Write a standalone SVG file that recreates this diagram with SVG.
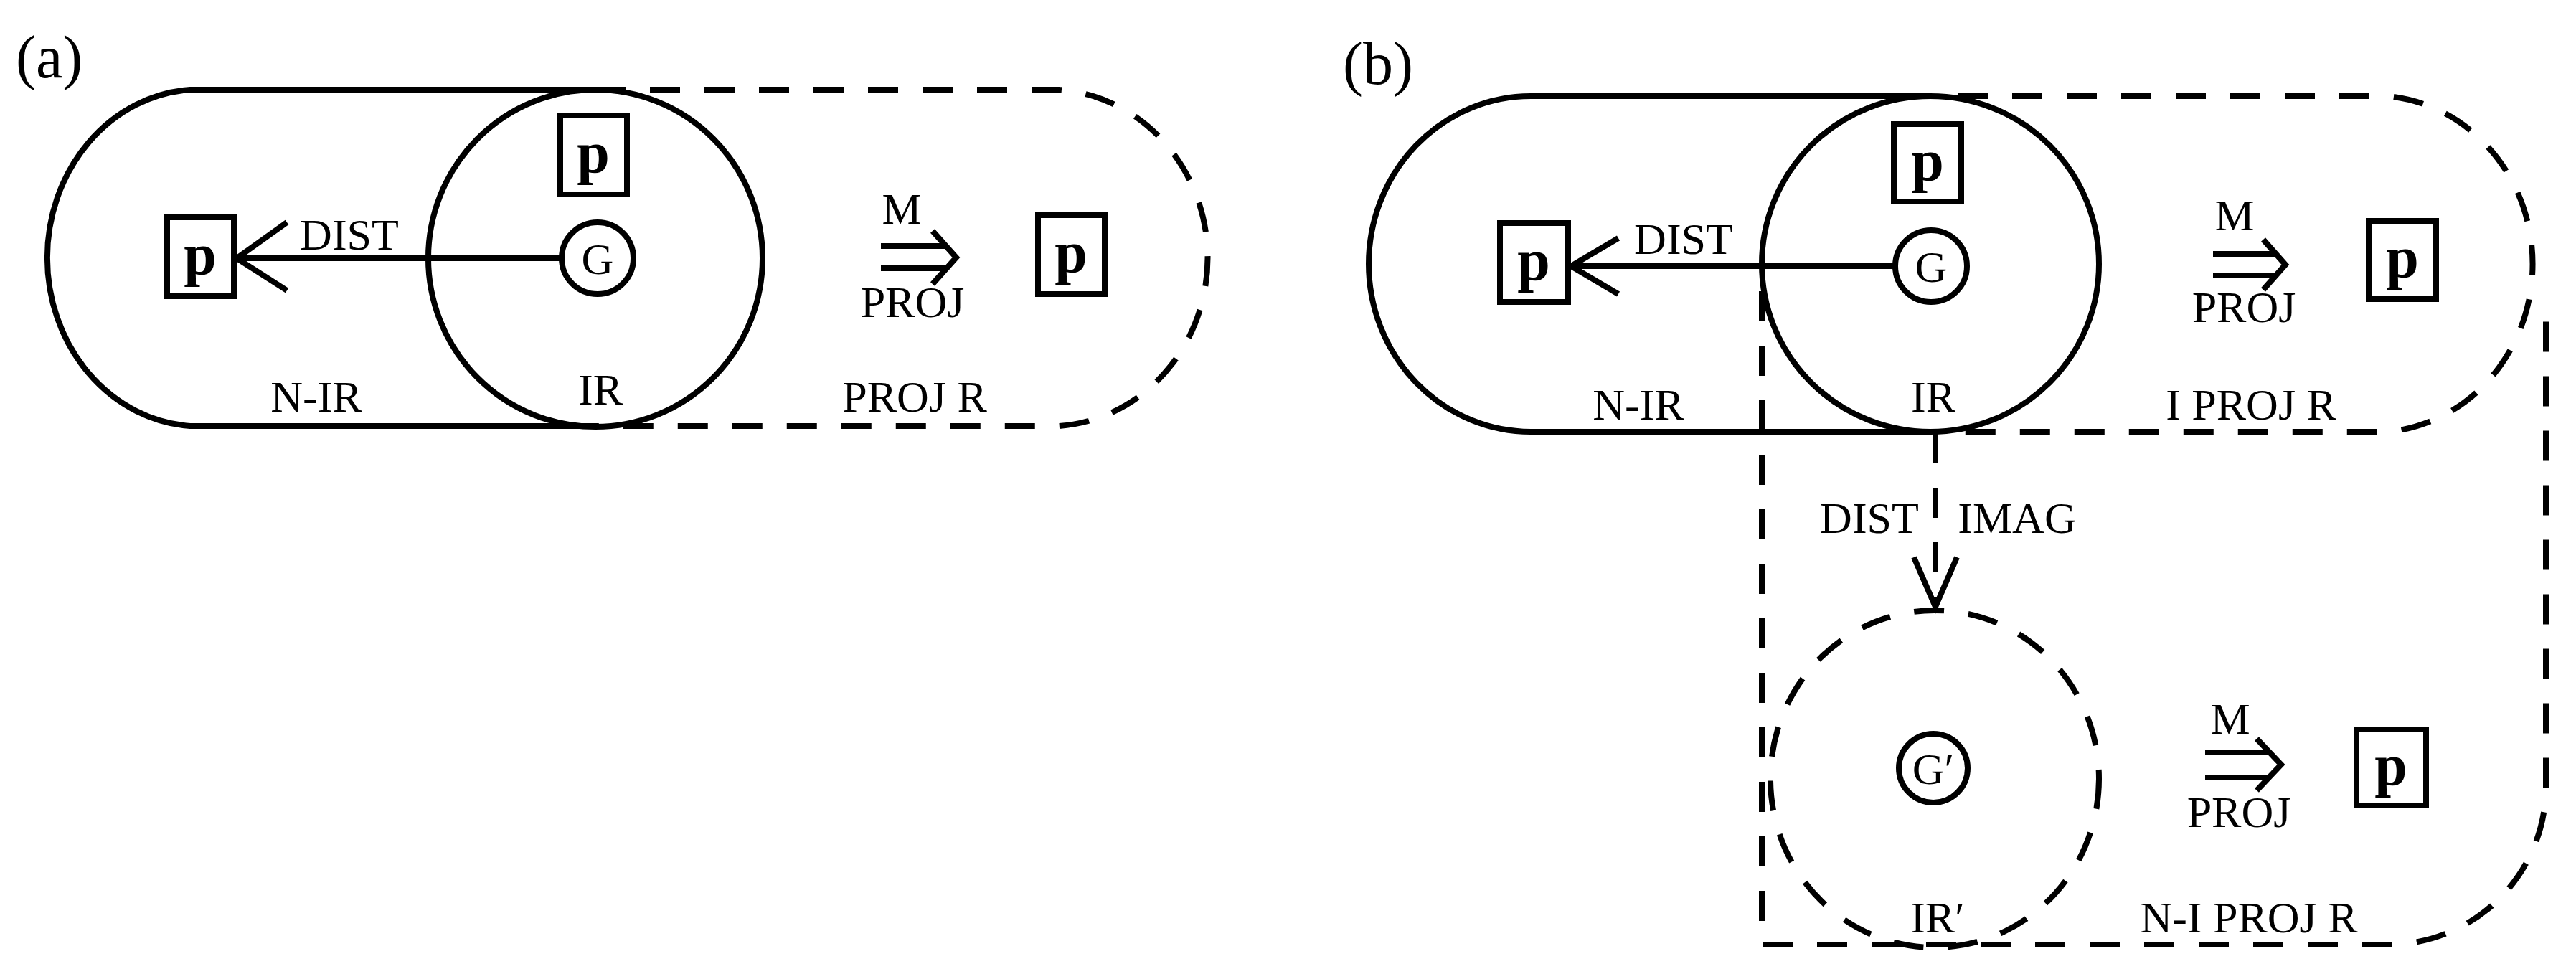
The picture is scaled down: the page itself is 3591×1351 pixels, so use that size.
<svg xmlns="http://www.w3.org/2000/svg" width="3591" height="1351" viewBox="0 0 3591 1351">
<style>
.s{fill:none;stroke:#000;stroke-width:8}
.d{fill:none;stroke:#000;stroke-width:8;stroke-dasharray:42 34}
.t{font-family:"Liberation Serif","Times New Roman",serif;font-size:62px;fill:#000;text-anchor:middle}
.p{font-family:"Liberation Serif","Times New Roman",serif;font-size:82px;font-weight:bold;fill:#000;text-anchor:middle}
.l{font-family:"Liberation Serif","Times New Roman",serif;font-size:84px;fill:#000}
</style>
<rect width="3591" height="1351" fill="#fff"/>
<text class="l" x="22" y="108">(a)</text>
<text class="l" x="1872" y="117">(b)</text>
<g id="a-proj">
<path class="d" d="M830,125 H1476 A222,235 0 0 1 1476,594 H830"/>
<text class="t" x="1275" y="574">PROJ R</text>
</g>
<g id="a-nir">
<path class="s" d="M830,125 H265 A213,235 0 0 0 265,594 H830"/>
<text class="t" x="441" y="574">N-IR</text>
</g>
<g id="a-ir">
<ellipse class="s" cx="830" cy="360" rx="233" ry="235"/>
<text class="t" x="837" y="564">IR</text>
</g>
<g id="a-p1"><rect class="s" x="781" y="161" width="93" height="110"/><text class="p" x="827" y="240">p</text></g>
<g id="a-p2"><rect class="s" x="233" y="303" width="93" height="110"/><text class="p" x="279" y="382">p</text></g>
<g id="a-p3"><rect class="s" x="1447" y="300" width="93" height="110"/><text class="p" x="1493" y="379">p</text></g>
<g id="a-g"><circle class="s" cx="833" cy="360" r="50"/><text class="t" x="833" y="382">G</text></g>
<g id="a-m">
<text class="t" x="1257" y="312">M</text>
<path class="s" stroke-width="6" d="M1228,343 H1318 M1228,374 H1318 M1300,322 L1333,359 L1300,396"/>
<text class="t" x="1272" y="442">PROJ</text>
</g>
<g id="b-iproj">
<path class="d" d="M2729,134 H3329 A222,235 0 0 1 3329,602 H2729"/>
<text class="t" x="3138" y="585">I PROJ R</text>
</g>
<g id="b-niproj">
<path class="d" d="M2456,406 V1317 H3329 A220,220 0 0 0 3549,1097 V420"/>
<text class="t" x="3135" y="1300">N-I PROJ R</text>
</g>
<g id="b-nir">
<path class="s" d="M2691,134 H2134 A226,234 0 0 0 2134,602 H2691"/>
<text class="t" x="2284" y="585">N-IR</text>
</g>
<g id="b-ir">
<ellipse class="s" cx="2691" cy="368" rx="235" ry="234"/>
<text class="t" x="2695" y="574">IR</text>
</g>
<g id="b-irp">
<ellipse class="d" cx="2697" cy="1086" rx="229" ry="235"/>
<text class="t" x="2701" y="1300">IR′</text>
</g>
<g id="b-p1"><rect class="s" x="2640" y="173" width="94" height="108"/><text class="p" x="2687" y="251">p</text></g>
<g id="b-p2"><rect class="s" x="2091" y="311" width="95" height="110"/><text class="p" x="2138" y="390">p</text></g>
<g id="b-p3"><rect class="s" x="3302" y="308" width="94" height="109"/><text class="p" x="3349" y="386">p</text></g>
<g id="b-p4"><rect class="s" x="3285" y="1017" width="97" height="106"/><text class="p" x="3333" y="1094">p</text></g>
<g id="b-g"><circle class="s" cx="2692" cy="371" r="50"/><text class="t" x="2692" y="393">G</text></g>
<g id="b-g2"><circle class="s" cx="2695" cy="1071" r="48"/><text class="t" x="2695" y="1093">G′</text></g>
<g id="b-m1">
<text class="t" x="3115" y="321">M</text>
<path class="s" stroke-width="6" d="M3085,354 H3172 M3085,384 H3172 M3155,334 L3186,369 L3155,404"/>
<text class="t" x="3128" y="449">PROJ</text>
</g>
<g id="b-m2">
<text class="t" x="3109" y="1023">M</text>
<path class="s" stroke-width="6" d="M3074,1049 H3163 M3074,1084 H3163 M3146,1030 L3180,1066 L3146,1102"/>
<text class="t" x="3121" y="1153">PROJ</text>
</g>
<g id="connectors">
<path class="s" d="M781,360 H330 M400,310 L330,360 L400,405"/>
<text class="t" x="487" y="348">DIST</text>
<path class="s" d="M2642,371 H2190 M2256,332 L2190,371 L2256,410"/>
<text class="t" x="2347" y="354">DIST</text>
<path class="d" stroke-dasharray="30 22" d="M2698,604 V842"/>
<path class="s" stroke-width="6" d="M2668,777 L2698,846 L2728,777"/>
<text class="t" x="2606" y="743">DIST</text>
<text class="t" x="2812" y="743">IMAG</text>
</g>
</svg>
